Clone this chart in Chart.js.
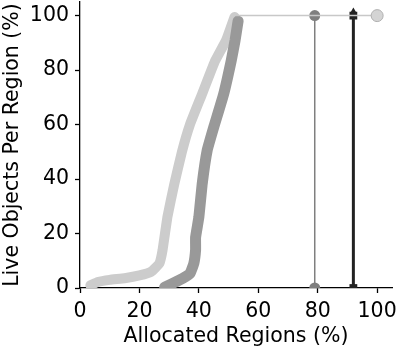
<!DOCTYPE html>
<html>
<head>
<meta charset="utf-8">
<script src="https://cdn.jsdelivr.net/npm/chart.js@4/dist/chart.umd.min.js"></script>
<style>
  html, body { margin: 0; padding: 0; background: #fff; overflow: hidden; }
  #cdf { display: block; margin-top: -5px; }
</style>
</head>
<body>
<canvas id="cdf" width="399" height="354"></canvas>
<script>
// values (x = allocated regions %, y = live objects %)
const lightX = [3.5, 6, 10, 15, 20, 24, 26.7, 27.8, 29.4, 31.7, 34.3, 37, 41, 45.3, 49.2, 52];
const lightY = [1, 2.2, 3, 3.6, 4.6, 6, 9, 14, 26, 38, 50, 60, 71, 83, 91, 99.5];
const darkX = [28.5, 31, 34.5, 37, 38.3, 38.9, 38.9, 40, 41.1, 42.8, 45, 48.3, 50.9, 52.2, 53.2];
const darkY = [0.3, 1.6, 3.5, 5.3, 9, 14, 18.6, 26, 38, 50.5, 59, 71, 83.5, 91, 98];
const tailX = [52.5, 100];
const tailY = [100, 100];
const grayLineX = [79, 79];
const blackLineX = [92, 92];
const vertY = [0, 100];
const tickValues = [0, 20, 40, 60, 80, 100];

const pts = (xs, ys) => xs.map((x, i) => ({ x: x, y: ys[i] }));
const font = { family: 'DejaVu Sans', size: 20.5 };

new Chart(document.getElementById('cdf'), {
  type: 'line',
  data: {
    datasets: [
      {
        data: pts(tailX, tailY),
        borderColor: '#c8c8c8',
        borderWidth: 1.5,
        pointRadius: [0, 6],
        pointStyle: 'circle',
        pointBackgroundColor: '#d4d4d4',
        pointBorderColor: '#b0b0b0',
        pointBorderWidth: 1,
        clip: 0
      },
      {
        data: pts(darkX, darkY),
        borderColor: '#999999',
        borderWidth: 11,
        borderCapStyle: 'round',
        borderJoinStyle: 'round',
        tension: 0.1,
        pointRadius: 0,
        clip: 0
      },
      {
        data: pts(lightX, lightY),
        borderColor: '#cccccc',
        borderWidth: 10,
        borderCapStyle: 'round',
        borderJoinStyle: 'round',
        tension: 0.1,
        pointRadius: 0,
        clip: 0
      },
      {
        data: pts(grayLineX, vertY),
        borderColor: '#7f7f7f',
        borderWidth: 1.5,
        pointRadius: 5.5,
        pointStyle: 'circle',
        pointBackgroundColor: '#7f7f7f',
        pointBorderWidth: 0,
        clip: 0
      },
      {
        data: pts(blackLineX, vertY),
        borderColor: '#222222',
        borderWidth: 3,
        pointRadius: 5.5,
        pointStyle: 'rect',
        pointBackgroundColor: '#222222',
        pointBorderWidth: 0,
        clip: 0
      },
      {
        data: pts([92], [101.5]),
        showLine: false,
        pointRadius: 4,
        pointStyle: 'triangle',
        pointBackgroundColor: '#222222',
        pointBorderWidth: 0,
        clip: 0
      }
    ]
  },
  options: {
    responsive: false,
    animation: false,
    layout: { padding: { top: 1, right: 3, left: 0, bottom: 0 } },
    plugins: { legend: { display: false }, tooltip: { enabled: false } },
    scales: {
      x: {
        type: 'linear',
        min: 0,
        max: 105,
        afterBuildTicks: s => { s.ticks = tickValues.map(v => ({ value: v })); },
        afterFit: s => { s.height = 61; s.paddingLeft = 0; s.paddingRight = 0; },
        grid: { drawOnChartArea: false, color: '#000', tickLength: 5, tickWidth: 1.3 },
        border: { color: '#000', width: 1.3 },
        ticks: { color: '#000', font: font, padding: 6, maxRotation: 0 },
        title: { display: true, text: 'Allocated Regions (%)', color: '#000', font: font, padding: { top: 0, bottom: 0 } }
      },
      y: {
        type: 'linear',
        min: 0,
        max: 105,
        afterBuildTicks: s => { s.ticks = tickValues.map(v => ({ value: v })); },
        afterFit: s => { s.width = 80; s.paddingTop = 0; s.paddingBottom = 0; },
        grid: { drawOnChartArea: false, color: '#000', tickLength: 5, tickWidth: 1.3 },
        border: { color: '#000', width: 1.3 },
        ticks: { color: '#000', font: font, padding: 6 },
        title: { display: true, text: 'Live Objects Per Region (%)', color: '#000', font: font, padding: { top: 0, bottom: 0 } }
      }
    }
  }
});
</script>
</body>
</html>
